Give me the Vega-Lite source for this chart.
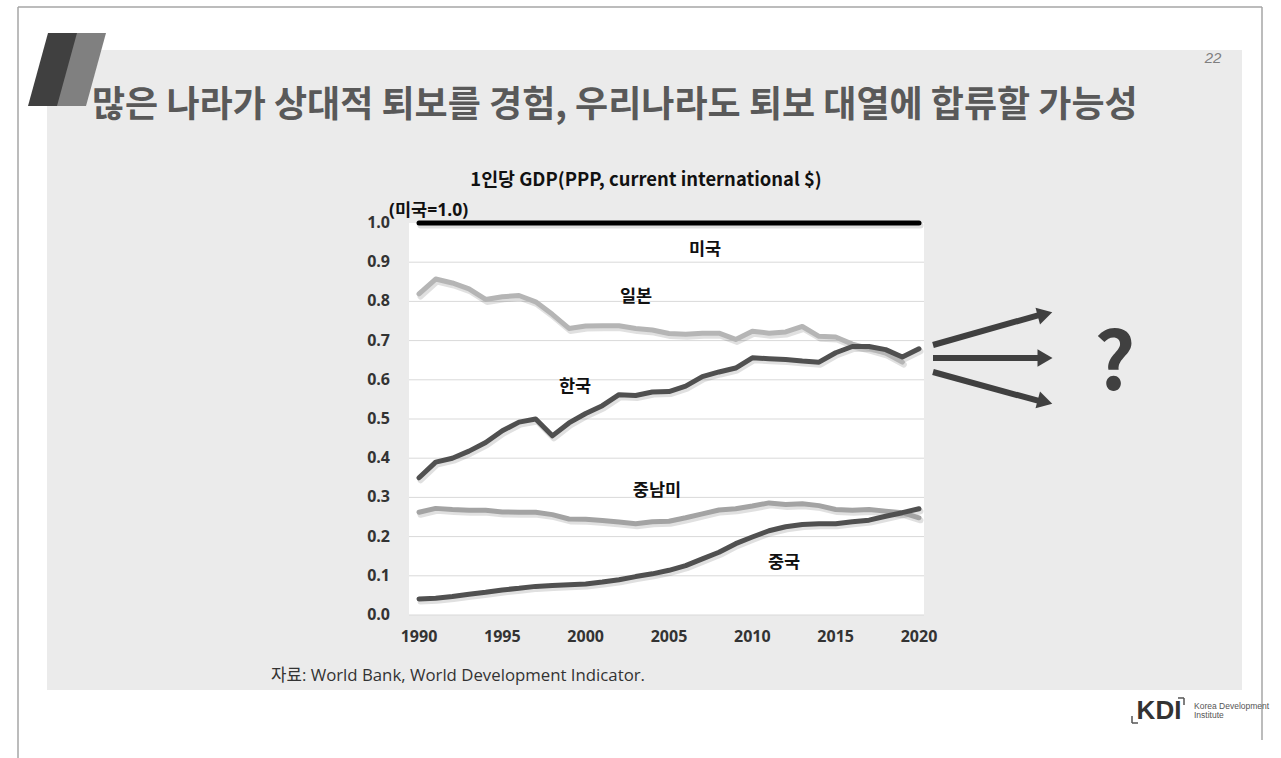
{
  "$schema": "https://vega.github.io/schema/vega-lite/v6.json",
  "width": 515,
  "height": 392,
  "autosize": {"type": "none"},
  "padding": {"left": 409, "top": 223, "right": 357, "bottom": 143},
  "background": "white",
  "config": {"view": {"stroke": null}, "font": "Noto Sans CJK KR"},
  "datasets": {
    "series": [
      {"country": "일본", "year": 1990, "value": 0.819}, {"country": "일본", "year": 1991, "value": 0.857}, {"country": "일본", "year": 1992, "value": 0.847}, {"country": "일본", "year": 1993, "value": 0.832}, {"country": "일본", "year": 1994, "value": 0.805}, {"country": "일본", "year": 1995, "value": 0.812}, {"country": "일본", "year": 1996, "value": 0.815}, {"country": "일본", "year": 1997, "value": 0.799}, {"country": "일본", "year": 1998, "value": 0.767}, {"country": "일본", "year": 1999, "value": 0.731}, {"country": "일본", "year": 2000, "value": 0.737}, {"country": "일본", "year": 2001, "value": 0.738}, {"country": "일본", "year": 2002, "value": 0.738}, {"country": "일본", "year": 2003, "value": 0.731}, {"country": "일본", "year": 2004, "value": 0.727}, {"country": "일본", "year": 2005, "value": 0.718}, {"country": "일본", "year": 2006, "value": 0.716}, {"country": "일본", "year": 2007, "value": 0.719}, {"country": "일본", "year": 2008, "value": 0.719}, {"country": "일본", "year": 2009, "value": 0.703}, {"country": "일본", "year": 2010, "value": 0.724}, {"country": "일본", "year": 2011, "value": 0.719}, {"country": "일본", "year": 2012, "value": 0.722}, {"country": "일본", "year": 2013, "value": 0.736}, {"country": "일본", "year": 2014, "value": 0.711}, {"country": "일본", "year": 2015, "value": 0.709}, {"country": "일본", "year": 2016, "value": 0.691}, {"country": "일본", "year": 2017, "value": 0.68}, {"country": "일본", "year": 2018, "value": 0.668}, {"country": "일본", "year": 2019, "value": 0.645},
      {"country": "중남미", "year": 1990, "value": 0.262}, {"country": "중남미", "year": 1991, "value": 0.272}, {"country": "중남미", "year": 1992, "value": 0.269}, {"country": "중남미", "year": 1993, "value": 0.267}, {"country": "중남미", "year": 1994, "value": 0.267}, {"country": "중남미", "year": 1995, "value": 0.263}, {"country": "중남미", "year": 1996, "value": 0.262}, {"country": "중남미", "year": 1997, "value": 0.262}, {"country": "중남미", "year": 1998, "value": 0.256}, {"country": "중남미", "year": 1999, "value": 0.245}, {"country": "중남미", "year": 2000, "value": 0.244}, {"country": "중남미", "year": 2001, "value": 0.241}, {"country": "중남미", "year": 2002, "value": 0.237}, {"country": "중남미", "year": 2003, "value": 0.233}, {"country": "중남미", "year": 2004, "value": 0.238}, {"country": "중남미", "year": 2005, "value": 0.239}, {"country": "중남미", "year": 2006, "value": 0.248}, {"country": "중남미", "year": 2007, "value": 0.258}, {"country": "중남미", "year": 2008, "value": 0.268}, {"country": "중남미", "year": 2009, "value": 0.271}, {"country": "중남미", "year": 2010, "value": 0.278}, {"country": "중남미", "year": 2011, "value": 0.286}, {"country": "중남미", "year": 2012, "value": 0.282}, {"country": "중남미", "year": 2013, "value": 0.284}, {"country": "중남미", "year": 2014, "value": 0.279}, {"country": "중남미", "year": 2015, "value": 0.269}, {"country": "중남미", "year": 2016, "value": 0.267}, {"country": "중남미", "year": 2017, "value": 0.269}, {"country": "중남미", "year": 2018, "value": 0.265}, {"country": "중남미", "year": 2019, "value": 0.261}, {"country": "중남미", "year": 2020, "value": 0.248},
      {"country": "한국", "year": 1990, "value": 0.35}, {"country": "한국", "year": 1991, "value": 0.39}, {"country": "한국", "year": 1992, "value": 0.4}, {"country": "한국", "year": 1993, "value": 0.418}, {"country": "한국", "year": 1994, "value": 0.44}, {"country": "한국", "year": 1995, "value": 0.47}, {"country": "한국", "year": 1996, "value": 0.492}, {"country": "한국", "year": 1997, "value": 0.5}, {"country": "한국", "year": 1998, "value": 0.457}, {"country": "한국", "year": 1999, "value": 0.49}, {"country": "한국", "year": 2000, "value": 0.514}, {"country": "한국", "year": 2001, "value": 0.534}, {"country": "한국", "year": 2002, "value": 0.562}, {"country": "한국", "year": 2003, "value": 0.56}, {"country": "한국", "year": 2004, "value": 0.569}, {"country": "한국", "year": 2005, "value": 0.57}, {"country": "한국", "year": 2006, "value": 0.584}, {"country": "한국", "year": 2007, "value": 0.608}, {"country": "한국", "year": 2008, "value": 0.62}, {"country": "한국", "year": 2009, "value": 0.63}, {"country": "한국", "year": 2010, "value": 0.656}, {"country": "한국", "year": 2011, "value": 0.654}, {"country": "한국", "year": 2012, "value": 0.652}, {"country": "한국", "year": 2013, "value": 0.648}, {"country": "한국", "year": 2014, "value": 0.645}, {"country": "한국", "year": 2015, "value": 0.669}, {"country": "한국", "year": 2016, "value": 0.685}, {"country": "한국", "year": 2017, "value": 0.685}, {"country": "한국", "year": 2018, "value": 0.677}, {"country": "한국", "year": 2019, "value": 0.658}, {"country": "한국", "year": 2020, "value": 0.679},
      {"country": "중국", "year": 1990, "value": 0.041}, {"country": "중국", "year": 1991, "value": 0.043}, {"country": "중국", "year": 1992, "value": 0.047}, {"country": "중국", "year": 1993, "value": 0.053}, {"country": "중국", "year": 1994, "value": 0.058}, {"country": "중국", "year": 1995, "value": 0.064}, {"country": "중국", "year": 1996, "value": 0.068}, {"country": "중국", "year": 1997, "value": 0.073}, {"country": "중국", "year": 1998, "value": 0.075}, {"country": "중국", "year": 1999, "value": 0.077}, {"country": "중국", "year": 2000, "value": 0.079}, {"country": "중국", "year": 2001, "value": 0.084}, {"country": "중국", "year": 2002, "value": 0.09}, {"country": "중국", "year": 2003, "value": 0.098}, {"country": "중국", "year": 2004, "value": 0.105}, {"country": "중국", "year": 2005, "value": 0.114}, {"country": "중국", "year": 2006, "value": 0.126}, {"country": "중국", "year": 2007, "value": 0.143}, {"country": "중국", "year": 2008, "value": 0.16}, {"country": "중국", "year": 2009, "value": 0.182}, {"country": "중국", "year": 2010, "value": 0.199}, {"country": "중국", "year": 2011, "value": 0.215}, {"country": "중국", "year": 2012, "value": 0.225}, {"country": "중국", "year": 2013, "value": 0.231}, {"country": "중국", "year": 2014, "value": 0.233}, {"country": "중국", "year": 2015, "value": 0.233}, {"country": "중국", "year": 2016, "value": 0.238}, {"country": "중국", "year": 2017, "value": 0.242}, {"country": "중국", "year": 2018, "value": 0.252}, {"country": "중국", "year": 2019, "value": 0.261}, {"country": "중국", "year": 2020, "value": 0.271},
      {"country": "미국", "year": 1990, "value": 1.0}, {"country": "미국", "year": 1995, "value": 1.0}, {"country": "미국", "year": 2000, "value": 1.0}, {"country": "미국", "year": 2005, "value": 1.0}, {"country": "미국", "year": 2010, "value": 1.0}, {"country": "미국", "year": 2015, "value": 1.0}, {"country": "미국", "year": 2020, "value": 1.0}
    ],
    "xticks": [{"year": 1990}, {"year": 1995}, {"year": 2000}, {"year": 2005}, {"year": 2010}, {"year": 2015}, {"year": 2020}],
    "yticks": [{"value": 0.0}, {"value": 0.1}, {"value": 0.2}, {"value": 0.3}, {"value": 0.4}, {"value": 0.5}, {"value": 0.6}, {"value": 0.7}, {"value": 0.8}, {"value": 0.9}, {"value": 1.0}],
    "seriesLabels": [
      {"label": "미국", "x": 2007.16, "y": 0.931},
      {"label": "일본", "x": 2003.02, "y": 0.811},
      {"label": "한국", "x": 1999.36, "y": 0.582},
      {"label": "중남미", "x": 2004.28, "y": 0.316},
      {"label": "중국", "x": 2011.9, "y": 0.133}
    ],
    "grid": [{"y": 0.0}, {"y": 0.1}, {"y": 0.2}, {"y": 0.3}, {"y": 0.4}, {"y": 0.5}, {"y": 0.6}, {"y": 0.7}, {"y": 0.8}, {"y": 0.9}],
    "frame": [
      {"x": 1965.94, "x2": 2040.58, "y": 1.551, "y2": 1.551},
      {"x": 1965.94, "x2": 1965.94, "y": 1.551, "y2": -0.37},
      {"x": 2040.58, "x2": 2040.58, "y": 1.551, "y2": -0.319}
    ],
    "slide": [{"x": 1967.68, "x2": 2039.38, "y": 1.4413, "y2": -0.1913}],
    "plot": [{"x": 1989.4, "x2": 2020.3, "y": 1.0, "y2": 0.0}],
    "slashDark": [{"y": 1.4847, "x": 1967.74, "x2": 1969.54}, {"y": 1.2985, "x": 1966.54, "x2": 1968.34}],
    "slashLight": [{"y": 1.4847, "x": 1969.48, "x2": 1971.22}, {"y": 1.2985, "x": 1968.28, "x2": 1970.02}],
    "arrows": [
      {"arrow": "up", "x": 2020.84, "y": 0.6888}, {"arrow": "up", "x": 2027.3, "y": 0.7665},
      {"arrow": "mid", "x": 2020.84, "y": 0.6556}, {"arrow": "mid", "x": 2027.3, "y": 0.6556},
      {"arrow": "down", "x": 2020.84, "y": 0.6199}, {"arrow": "down", "x": 2027.3, "y": 0.5447}
    ],
    "heads": [
      {"arrow": "up", "x": 2027.56, "y": 0.7676, "angle": -15},
      {"arrow": "mid", "x": 2027.56, "y": 0.6556, "angle": 0},
      {"arrow": "down", "x": 2027.56, "y": 0.5436, "angle": 15}
    ],
    "brackets": [
      {"x": 2035.54, "x2": 2035.9, "y": -0.2117, "y2": -0.2117},
      {"x": 2035.9, "x2": 2035.9, "y": -0.2117, "y2": -0.2296},
      {"x": 2032.78, "x2": 2032.78, "y": -0.2577, "y2": -0.2755},
      {"x": 2032.78, "x2": 2033.14, "y": -0.2755, "y2": -0.2755}
    ],
    "texts": [
      {"text": "1인당 GDP(PPP, current international $)", "x": 2003.62, "y": 1.1097, "kind": "ctitle"},
      {"text": "(미국=1.0)", "x": 1988.2, "y": 1.0306, "kind": "unit"},
      {"text": "많은 나라가 상대적 퇴보를 경험, 우리나라도 퇴보 대열에 합류할 가능성", "x": 1970.38, "y": 1.2985, "kind": "stitle"},
      {"text": "22", "x": 2037.64, "y": 1.4209, "kind": "page"},
      {"text": "자료: World Bank, World Development Indicator.", "x": 1981.12, "y": -0.1556, "kind": "source"},
      {"text": "?", "x": 2031.75, "y": 0.6352, "kind": "q"},
      {"text": "KDI", "x": 2034.4, "y": -0.2449, "kind": "kdi"},
      {"text": "Korea Development", "x": 2036.5, "y": -0.2321, "kind": "kdi2"},
      {"text": "Institute", "x": 2036.5, "y": -0.2551, "kind": "kdi2"}
    ]
  },
  "layer": [
    {
      "data": {"name": "frame"},
      "mark": {"type": "rule", "color": "#a6a6a6", "strokeWidth": 1.5},
      "encoding": {
        "x": {"field": "x", "type": "quantitative", "scale": {"domain": [1989.4, 2020.3], "nice": false, "zero": false}, "axis": null},
        "x2": {"field": "x2"},
        "y": {"field": "y", "type": "quantitative", "scale": {"domain": [0, 1], "nice": false, "zero": false}, "axis": null},
        "y2": {"field": "y2"}
      }
    },
    {
      "data": {"name": "slide"},
      "mark": {"type": "rect", "color": "#ebebeb"},
      "encoding": {
        "x": {"field": "x", "type": "quantitative", "axis": null},
        "x2": {"field": "x2"},
        "y": {"field": "y", "type": "quantitative", "axis": null},
        "y2": {"field": "y2"}
      }
    },
    {
      "data": {"name": "slashDark"},
      "mark": {"type": "area", "orient": "horizontal", "color": "#404040"},
      "encoding": {
        "y": {"field": "y", "type": "quantitative", "axis": null},
        "x": {"field": "x", "type": "quantitative", "axis": null},
        "x2": {"field": "x2"}
      }
    },
    {
      "data": {"name": "slashLight"},
      "mark": {"type": "area", "orient": "horizontal", "color": "#808080"},
      "encoding": {
        "y": {"field": "y", "type": "quantitative", "axis": null},
        "x": {"field": "x", "type": "quantitative", "axis": null},
        "x2": {"field": "x2"}
      }
    },
    {
      "data": {"name": "plot"},
      "mark": {"type": "rect", "color": "#ffffff"},
      "encoding": {
        "x": {"field": "x", "type": "quantitative", "axis": null},
        "x2": {"field": "x2"},
        "y": {"field": "y", "type": "quantitative", "axis": null},
        "y2": {"field": "y2"}
      }
    },
    {
      "data": {"name": "grid"},
      "mark": {"type": "rule", "color": "#d9d9d9", "strokeWidth": 1},
      "encoding": {
        "y": {"field": "y", "type": "quantitative", "axis": null}
      }
    },
    {
      "data": {"name": "xticks"},
      "mark": {"type": "text", "font": "Open Sans", "fontWeight": "bold", "fontSize": 16, "color": "#333333", "align": "center", "baseline": "middle", "dy": 22},
      "encoding": {
        "x": {"field": "year", "type": "quantitative", "axis": null},
        "y": {"datum": 0, "type": "quantitative", "axis": null},
        "text": {"field": "year", "type": "quantitative", "format": "d"}
      }
    },
    {
      "data": {"name": "yticks"},
      "mark": {"type": "text", "font": "Open Sans", "fontWeight": "bold", "fontSize": 16, "color": "#333333", "align": "right", "baseline": "middle", "dx": -19},
      "encoding": {
        "x": {"datum": 1989.4, "type": "quantitative", "axis": null},
        "y": {"field": "value", "type": "quantitative", "axis": null},
        "text": {"field": "value", "type": "quantitative", "format": ".1f"}
      }
    },
    {
      "data": {"name": "series"},
      "mark": {"type": "line", "strokeWidth": 6, "strokeCap": "round", "strokeJoin": "round", "color": "#000000", "opacity": 0.12, "xOffset": 1.5, "yOffset": 2.5},
      "encoding": {
        "x": {"field": "year", "type": "quantitative", "axis": null},
        "y": {"field": "value", "type": "quantitative", "axis": null},
        "detail": {"field": "country"}
      }
    },
    {
      "data": {"name": "series"},
      "mark": {"type": "line", "strokeWidth": 5, "strokeCap": "round", "strokeJoin": "round"},
      "encoding": {
        "x": {"field": "year", "type": "quantitative", "axis": null},
        "y": {"field": "value", "type": "quantitative", "axis": null},
        "color": {"field": "country", "type": "nominal", "legend": null,
          "scale": {"domain": ["일본", "중남미", "한국", "중국", "미국"], "range": ["#b5b5b5", "#a3a3a3", "#505050", "#505050", "#000000"]}}
      }
    },
    {
      "data": {"name": "seriesLabels"},
      "mark": {"type": "text", "font": "Noto Sans CJK KR", "fontWeight": "bold", "fontSize": 17.5, "color": "#111111", "align": "center", "baseline": "middle"},
      "encoding": {
        "x": {"field": "x", "type": "quantitative", "axis": null},
        "y": {"field": "y", "type": "quantitative", "axis": null},
        "text": {"field": "label"}
      }
    },
    {
      "data": {"name": "texts"},
      "transform": [{"filter": "datum.kind === 'ctitle'"}],
      "mark": {"type": "text", "font": "Noto Sans CJK KR", "fontWeight": "bold", "fontSize": 18.4, "color": "#111111", "align": "center", "baseline": "middle"},
      "encoding": {
        "x": {"field": "x", "type": "quantitative", "axis": null},
        "y": {"field": "y", "type": "quantitative", "axis": null},
        "text": {"field": "text"}
      }
    },
    {
      "data": {"name": "texts"},
      "transform": [{"filter": "datum.kind === 'unit'"}],
      "mark": {"type": "text", "font": "Open Sans, Noto Sans CJK KR", "fontWeight": "bold", "fontSize": 17.5, "color": "#111111", "align": "left", "baseline": "middle"},
      "encoding": {
        "x": {"field": "x", "type": "quantitative", "axis": null},
        "y": {"field": "y", "type": "quantitative", "axis": null},
        "text": {"field": "text"}
      }
    },
    {
      "data": {"name": "texts"},
      "transform": [{"filter": "datum.kind === 'stitle'"}],
      "mark": {"type": "text", "font": "Noto Sans CJK KR", "fontWeight": "bold", "fontSize": 36, "color": "#595959", "align": "left", "baseline": "middle"},
      "encoding": {
        "x": {"field": "x", "type": "quantitative", "axis": null},
        "y": {"field": "y", "type": "quantitative", "axis": null},
        "text": {"field": "text"}
      }
    },
    {
      "data": {"name": "texts"},
      "transform": [{"filter": "datum.kind === 'page'"}],
      "mark": {"type": "text", "font": "Liberation Sans", "fontStyle": "italic", "fontSize": 15, "color": "#7f7f7f", "align": "center", "baseline": "middle"},
      "encoding": {
        "x": {"field": "x", "type": "quantitative", "axis": null},
        "y": {"field": "y", "type": "quantitative", "axis": null},
        "text": {"field": "text"}
      }
    },
    {
      "data": {"name": "texts"},
      "transform": [{"filter": "datum.kind === 'source'"}],
      "mark": {"type": "text", "font": "Open Sans, Noto Sans CJK KR", "fontSize": 16.8, "color": "#333333", "align": "left", "baseline": "middle"},
      "encoding": {
        "x": {"field": "x", "type": "quantitative", "axis": null},
        "y": {"field": "y", "type": "quantitative", "axis": null},
        "text": {"field": "text"}
      }
    },
    {
      "data": {"name": "texts"},
      "transform": [{"filter": "datum.kind === 'q'"}],
      "mark": {"type": "text", "font": "Noto Sans CJK KR", "fontWeight": "bold", "fontSize": 80, "color": "#404040", "align": "center", "baseline": "middle"},
      "encoding": {
        "x": {"field": "x", "type": "quantitative", "axis": null},
        "y": {"field": "y", "type": "quantitative", "axis": null},
        "text": {"field": "text"}
      }
    },
    {
      "data": {"name": "texts"},
      "transform": [{"filter": "datum.kind === 'kdi'"}],
      "mark": {"type": "text", "font": "Liberation Sans", "fontWeight": "bold", "fontSize": 26, "color": "#333333", "align": "center", "baseline": "middle"},
      "encoding": {
        "x": {"field": "x", "type": "quantitative", "axis": null},
        "y": {"field": "y", "type": "quantitative", "axis": null},
        "text": {"field": "text"}
      }
    },
    {
      "data": {"name": "texts"},
      "transform": [{"filter": "datum.kind === 'kdi2'"}],
      "mark": {"type": "text", "font": "Liberation Sans Narrow, Liberation Sans", "fontSize": 8.5, "color": "#555555", "align": "left", "baseline": "middle"},
      "encoding": {
        "x": {"field": "x", "type": "quantitative", "axis": null},
        "y": {"field": "y", "type": "quantitative", "axis": null},
        "text": {"field": "text"}
      }
    },
    {
      "data": {"name": "arrows"},
      "mark": {"type": "line", "strokeWidth": 6, "color": "#404040", "strokeCap": "butt"},
      "encoding": {
        "x": {"field": "x", "type": "quantitative", "axis": null},
        "y": {"field": "y", "type": "quantitative", "axis": null},
        "detail": {"field": "arrow"}
      }
    },
    {
      "data": {"name": "heads"},
      "mark": {"type": "point", "shape": "triangle-right", "filled": true, "size": 300, "color": "#404040", "opacity": 1},
      "encoding": {
        "x": {"field": "x", "type": "quantitative", "axis": null},
        "y": {"field": "y", "type": "quantitative", "axis": null},
        "angle": {"field": "angle", "type": "quantitative", "scale": null}
      }
    },
    {
      "data": {"name": "brackets"},
      "mark": {"type": "rule", "color": "#555555", "strokeWidth": 1.5},
      "encoding": {
        "x": {"field": "x", "type": "quantitative", "axis": null},
        "x2": {"field": "x2"},
        "y": {"field": "y", "type": "quantitative", "axis": null},
        "y2": {"field": "y2"}
      }
    }
  ]
}
